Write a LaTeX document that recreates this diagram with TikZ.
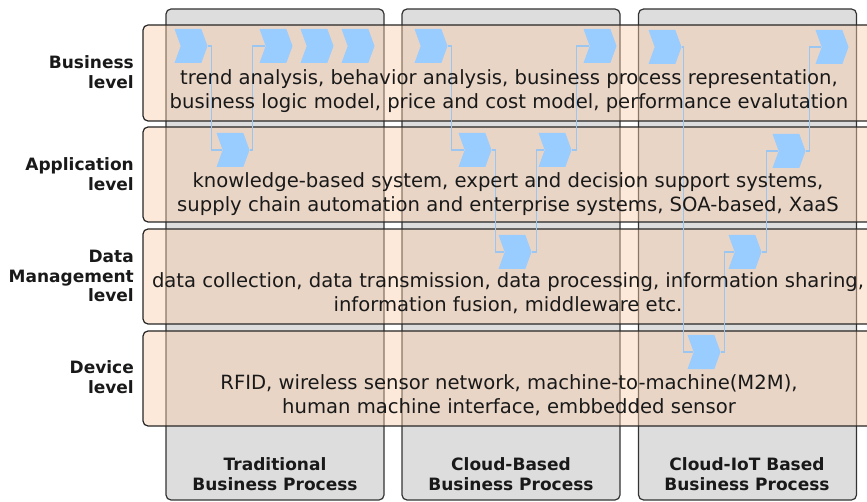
\documentclass[tikz,border=0pt]{standalone}
\usepackage{fontspec}
\setmainfont{DejaVu Sans}
\usetikzlibrary{shapes.symbols}
\pgfdeclarelayer{back}
\pgfdeclarelayer{mid}
\pgfsetlayers{back,mid,main}
\definecolor{peach}{RGB}{250,205,169}
\definecolor{colgray}{RGB}{221,221,221}
\definecolor{chev}{RGB}{153,204,255}
\definecolor{linkc}{RGB}{155,198,242}
\begin{document}
\begin{tikzpicture}[x=1pt,y=-1pt,
 colbox/.style={draw=black!80, fill=colgray, rounded corners=5pt, line width=1.2pt, minimum width=218pt, minimum height=491pt, inner sep=0pt},
 rowbox/.style={draw=black!85, fill=peach, fill opacity=0.44, rounded corners=5pt, line width=1.2pt, minimum width=730pt, minimum height=96pt, inner sep=0pt},
 chevron/.style={signal, signal to=east, signal from=west, signal pointer angle=140, fill=chev, minimum width=33pt, minimum height=34pt, inner sep=0pt, draw=none},
 link/.style={draw=linkc, line width=1.4pt},
 rowtext/.style={font=\fontsize{19.6}{23.5}\selectfont, align=center, text=black!90, inner sep=0pt},
 lbl/.style={font=\bfseries\fontsize{17}{19.5}\selectfont, align=right, anchor=east, text=black!90, inner sep=0pt},
 coltext/.style={font=\bfseries\fontsize{17}{20}\selectfont, align=center, text=black!90, inner sep=0pt}]
\useasboundingbox (0,0) rectangle (867,502);
\begin{pgfonlayer}{back}
\node[colbox] (col1) at (275,254.5) {};
\node[colbox] (col2) at (511,254.5) {};
\node[colbox] (col3) at (747.5,254.5) {};
\node[rowbox] (rowB) at (508,73) {};
\node[rowbox, minimum height=95pt] (rowA) at (508,174.5) {};
\node[rowbox, minimum height=95pt] (rowD) at (508,276.5) {};
\node[rowbox, minimum height=95pt] (rowV) at (508,378.5) {};
\end{pgfonlayer}
% row texts
\node[rowtext] (tB) at (509,91) {trend analysis, behavior analysis, business process representation,\\business logic model, price and cost model, performance evalutation};
\node[rowtext] (tA) at (508,194) {knowledge-based system, expert and decision support systems,\\supply chain automation and enterprise systems, SOA-based, XaaS};
\node[rowtext] (tD) at (508,293) {data collection, data transmission, data processing, information sharing,\\information fusion, middleware etc.};
\node[rowtext] (tV) at (509,395) {RFID, wireless sensor network, machine-to-machine(M2M),\\human machine interface, embbedded sensor};
% left labels
\node[lbl] (lB) at (134,72) {Business\\level};
\node[lbl] (lA) at (134,174) {Application\\level};
\node[lbl] (lD) at (134,276) {Data\\Management\\level};
\node[lbl] (lV) at (134,377) {Device\\level};
% column labels
\node[coltext] (c1t) at (275,474) {Traditional\\Business Process};
\node[coltext] (c2t) at (511,474) {Cloud-Based\\Business Process};
\node[coltext] (c3t) at (747,474) {Cloud-IoT Based\\Business Process};
% chevrons
\node[chevron] (b1) at (191,46) {};
\node[chevron] (b2) at (276,46) {};
\node[chevron] (b3) at (317,46) {};
\node[chevron] (b4) at (358,46) {};
\node[chevron] (b5) at (431,46) {};
\node[chevron] (b6) at (600,46) {};
\node[chevron] (b7) at (665,47) {};
\node[chevron] (b8) at (832,47) {};
\node[chevron] (a1) at (233,150) {};
\node[chevron] (a2) at (475,150) {};
\node[chevron] (a3) at (555,150) {};
\node[chevron] (a4) at (789,151) {};
\node[chevron] (d1) at (515,252) {};
\node[chevron] (d2) at (745,252) {};
\node[chevron] (v1) at (704,352) {};
% links
\begin{pgfonlayer}{mid}
\draw[link] (b1.east) -- ++(4,0) |- (a1.west);
\draw[link] (a1.east) -- ++(3,0) |- (b2.west);
\draw[link] (b5.east) -- ++(4,0) |- (a2.west);
\draw[link] (a2.east) -- ++(4,0) |- (d1.west);
\draw[link] (d1.east) -- ++(5,0) |- (a3.west);
\draw[link] (a3.east) -- ++(5,0) |- (b6.west);
\draw[link] (b7.east) -- ++(2,0) |- (v1.west);
\draw[link] (v1.east) -- ++(4,0) |- (d2.west);
\draw[link] (d2.east) -- ++(5,0) |- (a4.west);
\draw[link] (a4.east) -- ++(4,0) |- (b8.west);
\end{pgfonlayer}
\end{tikzpicture}
\end{document}
